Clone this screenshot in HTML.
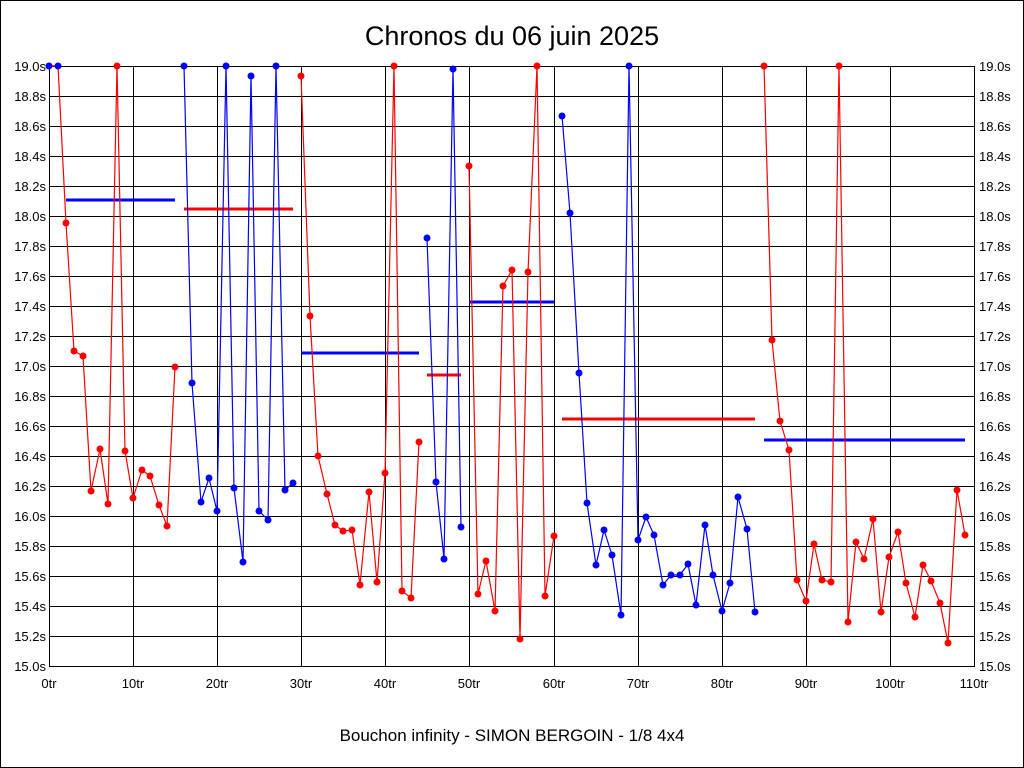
<!DOCTYPE html>
<html><head><meta charset="utf-8"><style>body{margin:0;background:#fff}svg{display:block}</style></head><body>
<svg width="1024" height="768" xmlns="http://www.w3.org/2000/svg" font-family="Liberation Sans, sans-serif">
<rect width="1024" height="768" fill="#fff"/>
<rect x="0.5" y="0.5" width="1023" height="767" fill="none" stroke="#000"/>
<text x="512" y="45" font-size="27" text-anchor="middle">Chronos du 06 juin 2025</text>
<g stroke="#000" stroke-width="1">
<line x1="49" y1="66.5" x2="975" y2="66.5"/><line x1="49" y1="96.5" x2="975" y2="96.5"/><line x1="49" y1="126.5" x2="975" y2="126.5"/><line x1="49" y1="156.5" x2="975" y2="156.5"/><line x1="49" y1="186.5" x2="975" y2="186.5"/><line x1="49" y1="216.5" x2="975" y2="216.5"/><line x1="49" y1="246.5" x2="975" y2="246.5"/><line x1="49" y1="276.5" x2="975" y2="276.5"/><line x1="49" y1="306.5" x2="975" y2="306.5"/><line x1="49" y1="336.5" x2="975" y2="336.5"/><line x1="49" y1="366.5" x2="975" y2="366.5"/><line x1="49" y1="396.5" x2="975" y2="396.5"/><line x1="49" y1="426.5" x2="975" y2="426.5"/><line x1="49" y1="456.5" x2="975" y2="456.5"/><line x1="49" y1="486.5" x2="975" y2="486.5"/><line x1="49" y1="516.5" x2="975" y2="516.5"/><line x1="49" y1="546.5" x2="975" y2="546.5"/><line x1="49" y1="576.5" x2="975" y2="576.5"/><line x1="49" y1="606.5" x2="975" y2="606.5"/><line x1="49" y1="636.5" x2="975" y2="636.5"/><line x1="49" y1="666.5" x2="975" y2="666.5"/>
<line x1="49.5" y1="66" x2="49.5" y2="666"/><line x1="133.5" y1="66" x2="133.5" y2="666"/><line x1="217.5" y1="66" x2="217.5" y2="666"/><line x1="301.5" y1="66" x2="301.5" y2="666"/><line x1="385.5" y1="66" x2="385.5" y2="666"/><line x1="469.5" y1="66" x2="469.5" y2="666"/><line x1="554.5" y1="66" x2="554.5" y2="666"/><line x1="638.5" y1="66" x2="638.5" y2="666"/><line x1="722.5" y1="66" x2="722.5" y2="666"/><line x1="806.5" y1="66" x2="806.5" y2="666"/><line x1="890.5" y1="66" x2="890.5" y2="666"/><line x1="974.5" y1="66" x2="974.5" y2="666"/>
</g>
<g font-size="13" text-anchor="end">
<text x="46" y="71">19.0s</text><text x="46" y="101">18.8s</text><text x="46" y="131">18.6s</text><text x="46" y="161">18.4s</text><text x="46" y="191">18.2s</text><text x="46" y="221">18.0s</text><text x="46" y="251">17.8s</text><text x="46" y="281">17.6s</text><text x="46" y="311">17.4s</text><text x="46" y="341">17.2s</text><text x="46" y="371">17.0s</text><text x="46" y="401">16.8s</text><text x="46" y="431">16.6s</text><text x="46" y="461">16.4s</text><text x="46" y="491">16.2s</text><text x="46" y="521">16.0s</text><text x="46" y="551">15.8s</text><text x="46" y="581">15.6s</text><text x="46" y="611">15.4s</text><text x="46" y="641">15.2s</text><text x="46" y="671">15.0s</text>
</g>
<g font-size="13" text-anchor="start">
<text x="979" y="71">19.0s</text><text x="979" y="101">18.8s</text><text x="979" y="131">18.6s</text><text x="979" y="161">18.4s</text><text x="979" y="191">18.2s</text><text x="979" y="221">18.0s</text><text x="979" y="251">17.8s</text><text x="979" y="281">17.6s</text><text x="979" y="311">17.4s</text><text x="979" y="341">17.2s</text><text x="979" y="371">17.0s</text><text x="979" y="401">16.8s</text><text x="979" y="431">16.6s</text><text x="979" y="461">16.4s</text><text x="979" y="491">16.2s</text><text x="979" y="521">16.0s</text><text x="979" y="551">15.8s</text><text x="979" y="581">15.6s</text><text x="979" y="611">15.4s</text><text x="979" y="641">15.2s</text><text x="979" y="671">15.0s</text>
</g>
<g font-size="13" text-anchor="middle">
<text x="49" y="688">0tr</text><text x="133" y="688">10tr</text><text x="217" y="688">20tr</text><text x="301" y="688">30tr</text><text x="385" y="688">40tr</text><text x="469" y="688">50tr</text><text x="554" y="688">60tr</text><text x="638" y="688">70tr</text><text x="722" y="688">80tr</text><text x="806" y="688">90tr</text><text x="890" y="688">100tr</text><text x="974" y="688">110tr</text>
</g>
<text x="512" y="741" font-size="17" text-anchor="middle">Bouchon infinity - SIMON BERGOIN - 1/8 4x4</text>
<g stroke-width="3">
<line x1="66" y1="200" x2="175" y2="200" stroke="#00f"/>
<line x1="184" y1="209" x2="293" y2="209" stroke="#f00"/>
<line x1="301" y1="353" x2="419" y2="353" stroke="#00f"/>
<line x1="427" y1="375" x2="461" y2="375" stroke="#f00"/>
<line x1="469" y1="302" x2="554" y2="302" stroke="#00f"/>
<line x1="562" y1="419" x2="755" y2="419" stroke="#f00"/>
<line x1="764" y1="440" x2="965" y2="440" stroke="#00f"/>
</g>
<g fill="none" stroke-width="1.2">
<polyline stroke="#00f" points="49,66 58,66"/>
<polyline stroke="#f00" points="49,66 58,66 66,223 74,351 83,356 91,491 100,449 108,504 117,66 125,451 133,498 142,470 150,476 159,505 167,526 175,367"/>
<polyline stroke="#00f" points="184,66 192,383 201,502 209,478 217,511 226,66 234,488 243,562 251,76 259,511 268,520 276,66 285,490 293,483"/>
<polyline stroke="#f00" points="301,76 310,316 318,456 327,494 335,525 343,531 352,530 360,585 369,492 377,582 385,473 394,66 402,591 411,598 419,442"/>
<polyline stroke="#00f" points="427,238 436,482 444,559 453,69 461,527"/>
<polyline stroke="#f00" points="469,166 478,594 486,561 495,611 503,286 512,270 520,639 528,272 537,66 545,596 554,536"/>
<polyline stroke="#00f" points="562,116 570,213 579,373 587,503 596,565 604,530 612,555 621,615 629,66 638,540 646,517 654,535 663,585 671,575 680,575 688,564 696,605 705,525 713,575 722,611 730,583 738,497 747,529 755,612"/>
<polyline stroke="#f00" points="764,66 772,340 780,421 789,450 797,580 806,601 814,544 822,580 831,582 839,66 848,622 856,542 864,559 873,519 881,612 889,557 898,532 906,583 915,617 923,565 931,581 940,603 948,643 957,490 965,535"/>
</g>
<g fill="#00f">
<circle cx="49" cy="66" r="3.5"/><circle cx="58" cy="66" r="3.5"/>
<circle cx="184" cy="66" r="3.5"/><circle cx="192" cy="383" r="3.5"/><circle cx="201" cy="502" r="3.5"/><circle cx="209" cy="478" r="3.5"/><circle cx="217" cy="511" r="3.5"/><circle cx="226" cy="66" r="3.5"/><circle cx="234" cy="488" r="3.5"/><circle cx="243" cy="562" r="3.5"/><circle cx="251" cy="76" r="3.5"/><circle cx="259" cy="511" r="3.5"/><circle cx="268" cy="520" r="3.5"/><circle cx="276" cy="66" r="3.5"/><circle cx="285" cy="490" r="3.5"/><circle cx="293" cy="483" r="3.5"/>
<circle cx="427" cy="238" r="3.5"/><circle cx="436" cy="482" r="3.5"/><circle cx="444" cy="559" r="3.5"/><circle cx="453" cy="69" r="3.5"/><circle cx="461" cy="527" r="3.5"/>
<circle cx="562" cy="116" r="3.5"/><circle cx="570" cy="213" r="3.5"/><circle cx="579" cy="373" r="3.5"/><circle cx="587" cy="503" r="3.5"/><circle cx="596" cy="565" r="3.5"/><circle cx="604" cy="530" r="3.5"/><circle cx="612" cy="555" r="3.5"/><circle cx="621" cy="615" r="3.5"/><circle cx="629" cy="66" r="3.5"/><circle cx="638" cy="540" r="3.5"/><circle cx="646" cy="517" r="3.5"/><circle cx="654" cy="535" r="3.5"/><circle cx="663" cy="585" r="3.5"/><circle cx="671" cy="575" r="3.5"/><circle cx="680" cy="575" r="3.5"/><circle cx="688" cy="564" r="3.5"/><circle cx="696" cy="605" r="3.5"/><circle cx="705" cy="525" r="3.5"/><circle cx="713" cy="575" r="3.5"/><circle cx="722" cy="611" r="3.5"/><circle cx="730" cy="583" r="3.5"/><circle cx="738" cy="497" r="3.5"/><circle cx="747" cy="529" r="3.5"/><circle cx="755" cy="612" r="3.5"/>
</g>
<g fill="#f00">
<circle cx="66" cy="223" r="3.5"/><circle cx="74" cy="351" r="3.5"/><circle cx="83" cy="356" r="3.5"/><circle cx="91" cy="491" r="3.5"/><circle cx="100" cy="449" r="3.5"/><circle cx="108" cy="504" r="3.5"/><circle cx="117" cy="66" r="3.5"/><circle cx="125" cy="451" r="3.5"/><circle cx="133" cy="498" r="3.5"/><circle cx="142" cy="470" r="3.5"/><circle cx="150" cy="476" r="3.5"/><circle cx="159" cy="505" r="3.5"/><circle cx="167" cy="526" r="3.5"/><circle cx="175" cy="367" r="3.5"/>
<circle cx="301" cy="76" r="3.5"/><circle cx="310" cy="316" r="3.5"/><circle cx="318" cy="456" r="3.5"/><circle cx="327" cy="494" r="3.5"/><circle cx="335" cy="525" r="3.5"/><circle cx="343" cy="531" r="3.5"/><circle cx="352" cy="530" r="3.5"/><circle cx="360" cy="585" r="3.5"/><circle cx="369" cy="492" r="3.5"/><circle cx="377" cy="582" r="3.5"/><circle cx="385" cy="473" r="3.5"/><circle cx="394" cy="66" r="3.5"/><circle cx="402" cy="591" r="3.5"/><circle cx="411" cy="598" r="3.5"/><circle cx="419" cy="442" r="3.5"/>
<circle cx="469" cy="166" r="3.5"/><circle cx="478" cy="594" r="3.5"/><circle cx="486" cy="561" r="3.5"/><circle cx="495" cy="611" r="3.5"/><circle cx="503" cy="286" r="3.5"/><circle cx="512" cy="270" r="3.5"/><circle cx="520" cy="639" r="3.5"/><circle cx="528" cy="272" r="3.5"/><circle cx="537" cy="66" r="3.5"/><circle cx="545" cy="596" r="3.5"/><circle cx="554" cy="536" r="3.5"/>
<circle cx="764" cy="66" r="3.5"/><circle cx="772" cy="340" r="3.5"/><circle cx="780" cy="421" r="3.5"/><circle cx="789" cy="450" r="3.5"/><circle cx="797" cy="580" r="3.5"/><circle cx="806" cy="601" r="3.5"/><circle cx="814" cy="544" r="3.5"/><circle cx="822" cy="580" r="3.5"/><circle cx="831" cy="582" r="3.5"/><circle cx="839" cy="66" r="3.5"/><circle cx="848" cy="622" r="3.5"/><circle cx="856" cy="542" r="3.5"/><circle cx="864" cy="559" r="3.5"/><circle cx="873" cy="519" r="3.5"/><circle cx="881" cy="612" r="3.5"/><circle cx="889" cy="557" r="3.5"/><circle cx="898" cy="532" r="3.5"/><circle cx="906" cy="583" r="3.5"/><circle cx="915" cy="617" r="3.5"/><circle cx="923" cy="565" r="3.5"/><circle cx="931" cy="581" r="3.5"/><circle cx="940" cy="603" r="3.5"/><circle cx="948" cy="643" r="3.5"/><circle cx="957" cy="490" r="3.5"/><circle cx="965" cy="535" r="3.5"/>
</g>
</svg>
</body></html>
